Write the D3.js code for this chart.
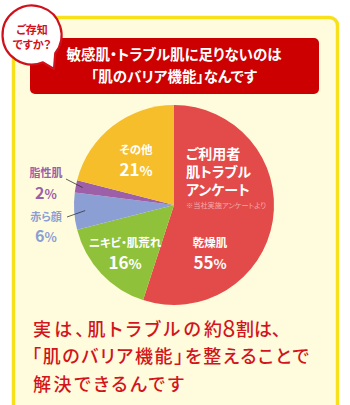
<!DOCTYPE html>
<html><head><meta charset="utf-8">
<script src="https://cdn.jsdelivr.net/npm/d3@7"></script>
<style>
html,body{margin:0;padding:0;background:#fff;}
svg{display:block;font-family:"Noto Sans CJK JP","Noto Sans",sans-serif;}
.palt{font-feature-settings:"palt" 1;}
</style></head>
<body>
<svg id="c" width="350" height="405"></svg>
<script>
// ---- data ----
const categories = ["乾燥肌", "ニキビ・肌荒れ", "赤ら顔", "脂性肌", "その他"];
const values = [55, 16, 6, 2, 21];
const sliceColors = ["#e24b4a", "#8fc23a", "#8c9fd4", "#9c5fa8", "#f6be2b"];
const titleLines = ["敏感肌・トラブル肌に足りないのは", "「肌のバリア機能」なんです"];
const badgeLines = ["ご存知", "ですか？"];
const surveyLines = ["ご利用者", "肌トラブル", "アンケート"];
const surveyNote = "※当社実施アンケートより";

const svg = d3.select("#c");
const RED = "#cc0000";

// frame
svg.append("rect").attr("x",13.5).attr("y",17.5).attr("width",324).attr("height",430)
  .attr("rx",8).attr("fill","#fffcdd").attr("stroke","#f8e11a").attr("stroke-width",3.5);

// banner
svg.append("rect").attr("x",30).attr("y",38).attr("width",289).attr("height",56)
  .attr("rx",5).attr("fill",RED);
svg.append("g").attr("class","palt").selectAll("text").data(titleLines).join("text")
  .attr("x",174).attr("y",(d,i)=>60+i*22).attr("text-anchor","middle")
  .attr("fill","#fff").attr("font-size",14.5).attr("font-weight",700).text(d=>d);

// speech bubble
const bc = [32,35], br = 29.5;
const pt = a => [bc[0]+br*Math.cos(a*Math.PI/180), bc[1]+br*Math.sin(a*Math.PI/180)];
const p1 = pt(38), p2 = pt(68);
svg.append("path")
  .attr("d",`M${p1} A${br} ${br} 0 1 0 ${p2} L54 69 Z`)
  .attr("fill","#fff").attr("stroke","#d0101a").attr("stroke-width",2.2).attr("stroke-linejoin","round");
svg.append("g").attr("class","palt").selectAll("text").data(badgeLines).join("text")
  .attr("x",32).attr("y",(d,i)=>34+i*14.5).attr("text-anchor","middle")
  .attr("fill","#d0101a").attr("font-size",11).attr("font-weight",700).text(d=>d);

// pie
const cx = 174, cy = 205, R = 100;
const pie = d3.pie().sort(null).value(d=>d.v).startAngle(0).endAngle(2*Math.PI);
const data = categories.map((c,i)=>({c, v: values[i], color: sliceColors[i]}));
const arcs = pie(data);
const arc = d3.arc().innerRadius(0).outerRadius(R);
const g = svg.append("g").attr("transform",`translate(${cx},${cy})`);
g.selectAll("path").data(arcs).join("path").attr("d",arc).attr("fill",d=>d.data.color);

// percent label helper
function pct(sel, x, y, v, size, color){
  const t = sel.append("text").attr("x",x).attr("y",y).attr("text-anchor","middle")
    .attr("fill",color).attr("font-weight",700).attr("font-size",size);
  t.append("tspan").text(v);
  t.append("tspan").attr("font-size",size*0.8).text("%");
}
function lab(x,y,txt,size,color){
  svg.append("text").attr("class","palt").attr("x",x).attr("y",y).attr("text-anchor","middle")
    .attr("fill",color).attr("font-weight",700).attr("font-size",size).text(txt);
}

// inside labels (layout positions)
const inside = {
  "その他": {x:136, y1:154, y2:176},
  "乾燥肌": {x:210, y1:247, y2:269},
  "ニキビ・肌荒れ": {x:125, y1:247, y2:269}
};
arcs.forEach(a=>{
  const L = inside[a.data.c];
  if(!L) return;
  lab(L.x, L.y1, a.data.c, 11.5, "#fff");
  pct(svg, L.x, L.y2, a.data.v, 17, "#fff");
});

// outside labels with leader lines
const outside = {
  "脂性肌": {x:46, y1:177, y2:199, lx:66, ly:179, r:93},
  "赤ら顔": {x:46, y1:221, y2:242, lx:67, ly:217, r:89}
};
arcs.forEach(a=>{
  const L = outside[a.data.c];
  if(!L) return;
  const m = (a.startAngle+a.endAngle)/2;
  const ex = cx + L.r*Math.sin(m), ey = cy - L.r*Math.cos(m);
  svg.append("line").attr("x1",L.lx).attr("y1",L.ly).attr("x2",ex).attr("y2",ey)
    .attr("stroke","#333").attr("stroke-width",0.8);
  lab(L.x, L.y1, a.data.c, 11, a.data.color);
  pct(svg, L.x, L.y2, a.data.v, 16, a.data.color);
});

// survey title
svg.append("g").attr("class","palt").selectAll("text").data(surveyLines).join("text")
  .attr("x",186).attr("y",(d,i)=>159+i*18)
  .attr("fill","#fff").attr("font-size",14).attr("font-weight",700).text(d=>d);
svg.append("text").attr("class","palt").attr("x",186).attr("y",208).attr("fill","#f6aaa8")
  .attr("font-size",7.2).text(surveyNote);

// bottom message
const bottom = svg.append("g").attr("class","palt").attr("fill","#d2141c").attr("font-size",18).attr("font-weight",500);
bottom.append("text").attr("x",33).attr("y",336).attr("textLength",189).attr("lengthAdjust","spacing")
  .text("実は、肌トラブルの約");
bottom.append("text").attr("x",229).attr("y",337).attr("text-anchor","middle")
  .attr("font-size",23).attr("font-weight",400).text("8");
bottom.append("text").attr("x",236).attr("y",336).text("割は、");
bottom.append("text").attr("x",32).attr("y",363).attr("textLength",277).attr("lengthAdjust","spacing")
  .text("「肌のバリア機能」を整えることで");
bottom.append("text").attr("x",33).attr("y",391).attr("textLength",151).attr("lengthAdjust","spacing")
  .text("解決できるんです");
</script>
</body></html>
